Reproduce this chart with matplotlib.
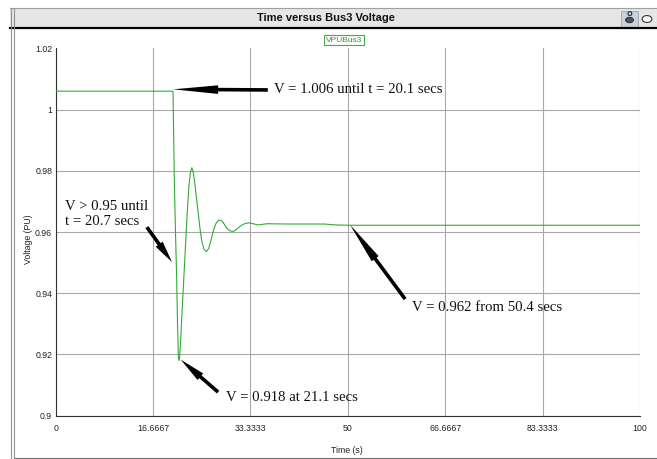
import numpy as np
import matplotlib.pyplot as plt
from matplotlib.patches import Rectangle, Circle
from matplotlib.lines import Line2D

# Bus3 voltage trace
time_s = [0, 20.05, 20.1, 20.12, 20.2, 20.3, 20.5, 20.7, 20.85, 21.0, 21.1, 21.2,
          21.4, 21.6, 21.9, 22.2, 22.5, 22.8, 23.05, 23.3, 23.55, 23.8, 24.1, 24.4,
          24.7, 25.0, 25.4, 25.8, 26.2, 26.6, 27.0, 27.4, 27.8, 28.1, 28.5, 28.9,
          29.3, 29.8, 30.4, 30.9, 31.5, 32.2, 33.0, 33.8, 34.6, 35.4, 36.2, 40.0,
          46.0, 48.0, 50.4, 100]
volt_pu = [1.006, 1.006, 1.004, 1.0, 0.99, 0.977, 0.96, 0.945, 0.93, 0.919, 0.918,
           0.919, 0.925, 0.933, 0.944, 0.955, 0.966, 0.975, 0.9795, 0.981, 0.9795,
           0.976, 0.971, 0.966, 0.961, 0.957, 0.9543, 0.9536, 0.9547, 0.9575,
           0.9605, 0.9627, 0.9637, 0.9639, 0.9635, 0.9624, 0.9612, 0.9604, 0.9602,
           0.9608, 0.9618, 0.9626, 0.963, 0.9627, 0.9623, 0.9625, 0.9627, 0.9626,
           0.9626, 0.9623, 0.9622, 0.9622]

x_ticks = [0, 16.6667, 33.3333, 50, 66.6667, 83.3333, 100]
x_tick_labels = ['0', '16.6667', '33.3333', '50', '66.6667', '83.3333', '100']
y_ticks = [0.9, 0.92, 0.94, 0.96, 0.98, 1.0, 1.02]
y_tick_labels = ['0.9', '0.92', '0.94', '0.96', '0.98', '1', '1.02']

# annotations: text, text position, arrow tail, arrow tip (data coords), head length (px)
notes = [
    ('V = 1.006 until t = 20.1 secs', (37.4, 1.0064), (36.3, 1.0064), (20.1, 1.0066), 45),
    ('V > 0.95 until\nt = 20.7 secs', (1.6, 0.9660), (15.6, 0.9616), (19.9, 0.9502), 22),
    ('V = 0.918 at 21.1 secs', (29.1, 0.9058), (27.8, 0.9077), (21.4, 0.9183), 26),
    ('V = 0.962 from 50.4 secs', (61.0, 0.9352), (59.8, 0.9381), (50.4, 0.9623), 42),
]

W, H = 657, 459
fig = plt.figure(figsize=(W / 100, H / 100), dpi=100)

# window frame / title bar
def px(x, y):
    return x / W, 1 - y / H

fig.patches.append(Rectangle(px(10, 28), (W - 10) / W, 20 / H, transform=fig.transFigure,
                             facecolor='#e6e6e6', edgecolor='none', zorder=0))
fig.lines.append(Line2D([10 / W, 1], [1 - 8 / H] * 2, transform=fig.transFigure,
                        color='#a0a0a0', lw=0.8))
fig.lines.append(Line2D([10 / W, 1], [1 - 28 / H] * 2, transform=fig.transFigure,
                        color='black', lw=1.6))
for xx in (10.5, 14):
    fig.lines.append(Line2D([xx / W] * 2, [1 - 458 / H, 1 - 8 / H], transform=fig.transFigure,
                            color='#909090', lw=0.8))
fig.lines.append(Line2D([14 / W, 1], [1 - 458 / H] * 2, transform=fig.transFigure,
                        color='#707070', lw=0.8))
# icons at right of title bar
fig.patches.append(Rectangle(px(621, 27), 17 / W, 16 / H, transform=fig.transFigure,
                             facecolor='#c8d2dc', edgecolor='#9aa6b2', lw=0.6))
fig.text(629.5 / W, 1 - 19 / H, '\u00b0', fontsize=11, ha='center', va='center',
         color='#333333', fontweight='bold')
fig.patches.append(Circle((629.5 / W, 1 - 20 / H), 0.006, transform=fig.transFigure,
                          facecolor='#555555', edgecolor='#222222', lw=0.6))
fig.patches.append(Circle((647 / W, 1 - 19 / H), 0.0075, transform=fig.transFigure,
                          facecolor='white', edgecolor='#333333', lw=0.8))

fig.text(326 / W, 1 - 18 / H, 'Time versus Bus3 Voltage', ha='center', va='center',
         fontsize=8, fontweight='bold', family='Liberation Sans', color='#111111')
fig.text(344 / W, 1 - 40 / H, 'VPUBus3', ha='center', va='center', fontsize=6,
         family='Liberation Sans', color='#2e9a2e',
         bbox=dict(boxstyle='square,pad=0.2', facecolor='white', edgecolor='#3cb03c', lw=0.8))

ax = fig.add_axes([55.7 / W, (H - 415.7) / H, 584.3 / W, 367.4 / H])
ax.plot(time_s, volt_pu, color='#33aa33', lw=0.8, zorder=3)

ax.set_xlim(0, 100)
ax.set_ylim(0.9, 1.02)
ax.set_xticks(x_ticks)
ax.set_xticklabels(x_tick_labels)
ax.set_yticks(y_ticks)
ax.set_yticklabels(y_tick_labels)
ax.tick_params(length=0, labelsize=6.3, colors='#222222')
ax.tick_params(axis='x', pad=6)
ax.tick_params(axis='y', pad=2.5)
for lab in ax.get_xticklabels() + ax.get_yticklabels():
    lab.set_family('Liberation Sans')
ax.grid(True, color='#a8a8a8', lw=0.8)
ax.get_ygridlines()[-1].set_visible(False)
ax.spines['top'].set_visible(False)
ax.spines['right'].set_visible(False)
ax.spines['left'].set_color('#333333')
ax.spines['bottom'].set_color('#333333')
ax.spines['left'].set_linewidth(0.8)
ax.spines['bottom'].set_linewidth(0.8)

ax.set_xlabel('Time (s)', fontsize=6.3, family='Liberation Sans', color='#222222')
ax.set_ylabel('Voltage (PU)', fontsize=6.3, family='Liberation Sans', color='#222222')
ax.xaxis.set_label_coords(0.498, -0.0825)
ax.yaxis.set_label_coords(-0.038, 0.48)

for text, txy, tail, tip, hl in notes:
    ax.annotate('', xy=tip, xytext=tail,
                arrowprops=dict(arrowstyle=f'simple,head_length={hl * 0.72:.1f},'
                                           f'head_width=6.2,tail_width=2.6',
                                mutation_scale=1, facecolor='black', edgecolor='none',
                                lw=0, shrinkA=0, shrinkB=0), zorder=5)
    ax.text(txy[0], txy[1], text, ha='left', va='center', fontsize=10.6,
            family='Liberation Serif', color='#111111', zorder=6)

fig.savefig('out.png', dpi=100)
